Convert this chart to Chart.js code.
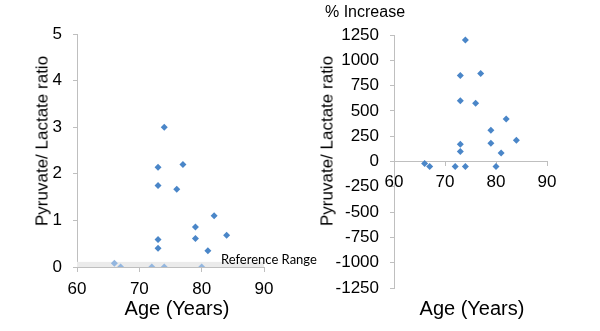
<!DOCTYPE html>
<html>
<head>
<meta charset="utf-8">
<script src="https://cdn.jsdelivr.net/npm/chart.js@4"></script>
<style>
  body { margin: 0; background: #fff; }
  #wrap { position: relative; width: 600px; height: 331px; overflow: hidden; font-family: "Liberation Sans", Arial, sans-serif; color: #000; }
  .box { position: absolute; top: 0; }
  .lbl { position: absolute; white-space: nowrap; line-height: 1; }
  .rot { transform: translate(-50%, -50%) rotate(-90deg); font-size: 17px; }
  .xt { transform: translate(-50%, -50%); font-size: 20px; }
</style>
</head>
<body>
<div id="wrap">
  <div class="box" style="left:0"><canvas id="leftChart" width="300" height="331"></canvas></div>
  <div class="box" style="left:300px"><canvas id="rightChart" width="300" height="331"></canvas></div>
  <div class="lbl rot" style="left:42px; top:141px">Pyruvate/ Lactate ratio</div>
  <div class="lbl rot" style="left:327px; top:141px">Pyruvate/ Lactate ratio</div>
  <div class="lbl xt" style="left:177px; top:308px">Age (Years)</div>
  <div class="lbl xt" style="left:472px; top:308px">Age (Years)</div>
  <div class="lbl" style="left:325px; top:4px; font-size:16px">% Increase</div>
  <div class="lbl" style="left:221px; top:253px; font-size:13px; font-family:Lato, 'Open Sans', sans-serif">Reference Range</div>
</div>
<script>
// same patients, same order in both panels
var ages = [66, 67, 72, 74, 80, 73, 73, 73, 73, 74, 77, 76, 79, 79, 82, 84, 81];
var ratios = [0.08, 0, 0, 0, 0, 0.59, 0.4, 1.75, 2.14, 3.0, 2.2, 1.67, 0.86, 0.61, 1.1, 0.68, 0.35];
var increases = [-20, -50, -50, -50, -50, 100, 170, 600, 850, 1200, 870, 575, 310, 180, 420, 210, 85];
var refRange = [0, 0.11];

var blue = "#4a86c8";
var paleBlue = "#93b6df";
var axisGray = "#bfbfbf";
var tickFont = { family: "'Liberation Sans', Arial, sans-serif", size: 17 };

function toPoints(xs, ys) {
  return xs.map(function (x, i) { return { x: x, y: ys[i] }; });
}

// plain numbers, no thousands separator
function plain(v) { return String(v); }

// light grey band for the normal range, drawn under the points
var bandPlugin = {
  id: "refBand",
  beforeDatasetsDraw: function (chart) {
    var ctx = chart.ctx, area = chart.chartArea, y = chart.scales.y;
    var top = y.getPixelForValue(refRange[1]);
    var bottom = y.getPixelForValue(refRange[0]);
    ctx.save();
    ctx.fillStyle = "#ebebeb";
    ctx.fillRect(area.left, top, area.right - area.left, bottom - top);
    ctx.restore();
  }
};

Chart.defaults.animation = false;
Chart.defaults.color = "#000";

new Chart("leftChart", {
  type: "scatter",
  data: {
    datasets: [{
      data: toPoints(ages, ratios),
      pointStyle: "rectRot",
      pointRadius: 3.5,
      borderWidth: 0,
      backgroundColor: function (c) {
        var v = c.raw ? c.raw.y : 1;
        return v <= refRange[1] ? paleBlue : blue;
      }
    }]
  },
  options: {
    responsive: false,
    layout: { padding: { top: 34, right: 36, left: 0, bottom: 0 } },
    plugins: { legend: { display: false }, tooltip: { enabled: false } },
    scales: {
      x: {
        type: "linear", min: 60, max: 90,
        ticks: { stepSize: 10, font: tickFont, padding: 7, color: "#000", callback: plain },
        grid: { drawOnChartArea: false, tickLength: 5, color: axisGray },
        border: { color: axisGray },
        afterFit: function (s) { s.height = 64; }
      },
      y: {
        min: 0, max: 5,
        ticks: { stepSize: 1, font: tickFont, padding: 11, color: "#000", callback: plain },
        grid: { drawOnChartArea: false, tickLength: 4, color: axisGray },
        border: { color: axisGray },
        afterFit: function (s) { s.width = 77; }
      }
    }
  },
  plugins: [bandPlugin]
});

new Chart("rightChart", {
  type: "scatter",
  data: {
    datasets: [{
      data: toPoints(ages, increases),
      pointStyle: "rectRot",
      pointRadius: 3.5,
      borderWidth: 0,
      backgroundColor: blue
    }]
  },
  options: {
    responsive: false,
    layout: { padding: { top: 35, right: 53, left: 0, bottom: 43 } },
    plugins: { legend: { display: false }, tooltip: { enabled: false } },
    scales: {
      x: {
        type: "linear", min: 60, max: 90,
        position: { y: 0 },
        ticks: { stepSize: 10, font: tickFont, padding: 7, color: "#000", callback: plain },
        grid: { drawOnChartArea: false, tickLength: 4, color: axisGray },
        border: { color: axisGray }
      },
      y: {
        min: -1250, max: 1250,
        ticks: { stepSize: 250, font: tickFont, padding: 11, color: "#000", callback: plain },
        grid: { drawOnChartArea: false, tickLength: 4, color: axisGray },
        border: { color: axisGray },
        afterFit: function (s) { s.width = 94; }
      }
    }
  }
});
</script>
</body>
</html>
